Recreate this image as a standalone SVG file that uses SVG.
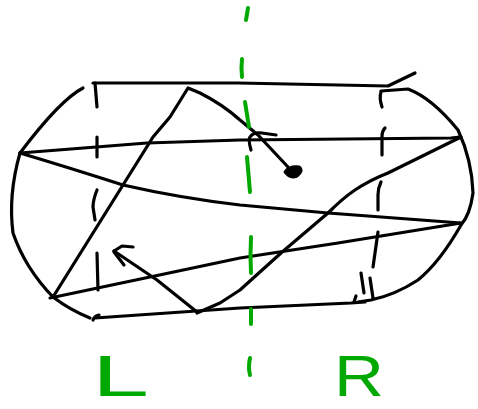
<svg xmlns="http://www.w3.org/2000/svg" width="478" height="409" viewBox="0 0 478 409">
<style>
.k{fill:none;stroke:#000;stroke-width:3.2;stroke-linecap:round;stroke-linejoin:round}
.blob{fill:#000;stroke:#000;stroke-width:3;stroke-linejoin:round}
.g{fill:none;stroke:#00a800;stroke-width:4;stroke-linecap:round;stroke-linejoin:round}
.t{font-family:"Liberation Sans",Arial,sans-serif;font-size:58px;fill:#00a800}
</style>
<rect width="478" height="409" fill="#fff"/>
<g id="outline">
<path class="k" d="M83,88 Q60,100 20,153 Q8,195 13,233 Q25,268 53,297 Q70,310 90,318"/>
<path class="k" d="M93,83 L238,83 L388,86 L415,73"/>
<path class="k" d="M381,91 L408,89 Q432,98 458,130 Q472,160 473,193 Q470,215 461,225 Q440,262 418,280 Q395,295 371,300 L358,302"/>
<path class="k" d="M95,318 L240,308 L351,303 L365,302"/>
<path class="k" d="M93,320 Q94,316 99,315"/>
</g>
<g id="ticks">
<path class="k" d="M95,83 L97,107"/>
<path class="k" d="M97,137 L97,157"/>
<path class="k" d="M97,190 Q93,200 93,207 L95,220"/>
<path class="k" d="M97,253 L98,290"/>
<path class="k" d="M381,92 Q379,98 382,107"/>
<path class="k" d="M385,128 Q382,131 382,137 L382,155"/>
<path class="k" d="M381,182 Q378,188 378,195 L378,210"/>
<path class="k" d="M378,232 L373,267"/>
<path class="k" d="M361,273 L364,293"/>
<path class="k" d="M370,278 L373,298"/>
<path class="k" d="M354,302 L356,296"/>
</g>
<g id="connectors">
<path class="k" d="M20,153 L147,143 L240,140 L451,138 L460,137"/>
<path class="k" d="M20,153 Q70,168 123,185 Q180,198 240,205 L328,213 L461,223"/>
<path class="k" d="M53,297 L123,185 L153,137 L170,117 L188,88 L200,93 Q222,104 240,120 L258,135 L288,167"/>
<path class="blob" d="M285,172 Q289,166 299,167 Q304,171 297,176 Q290,179 285,172 Z"/>
<path class="k" d="M251,150 Q248,140 250,137 Q253,132 262,133 L276,135"/>
<path class="k" d="M50,298 L150,277 L240,258 L338,243 L461,223"/>
<path class="k" d="M197,312 L157,280 L114,251"/>
<path class="k" d="M114,251 L122,246 L133,247"/>
<path class="k" d="M114,252 L124,265"/>
<path class="k" d="M197,313 L220,303 L240,290 L281,253 L328,213 Q343,198 355,190 Q370,180 388,173 L461,137"/>
</g>
<g id="divider">
<path class="g" d="M248,8 L246,20"/>
<path class="g" d="M242,59 Q241,68 242,77"/>
<path class="g" d="M245,102 L249,127"/>
<path class="g" d="M247,157 L250,192"/>
<path class="g" d="M251,237 Q250,255 251,273"/>
<path class="g" d="M251,309 L251,324"/>
<path class="g" d="M250,358 Q248,367 250,375"/>
</g>
<g id="labels">
<text class="t" x="92" y="396" textLength="57" lengthAdjust="spacingAndGlyphs">L</text>
<text class="t" x="334" y="396" textLength="50" lengthAdjust="spacingAndGlyphs">R</text>
</g>
</svg>
